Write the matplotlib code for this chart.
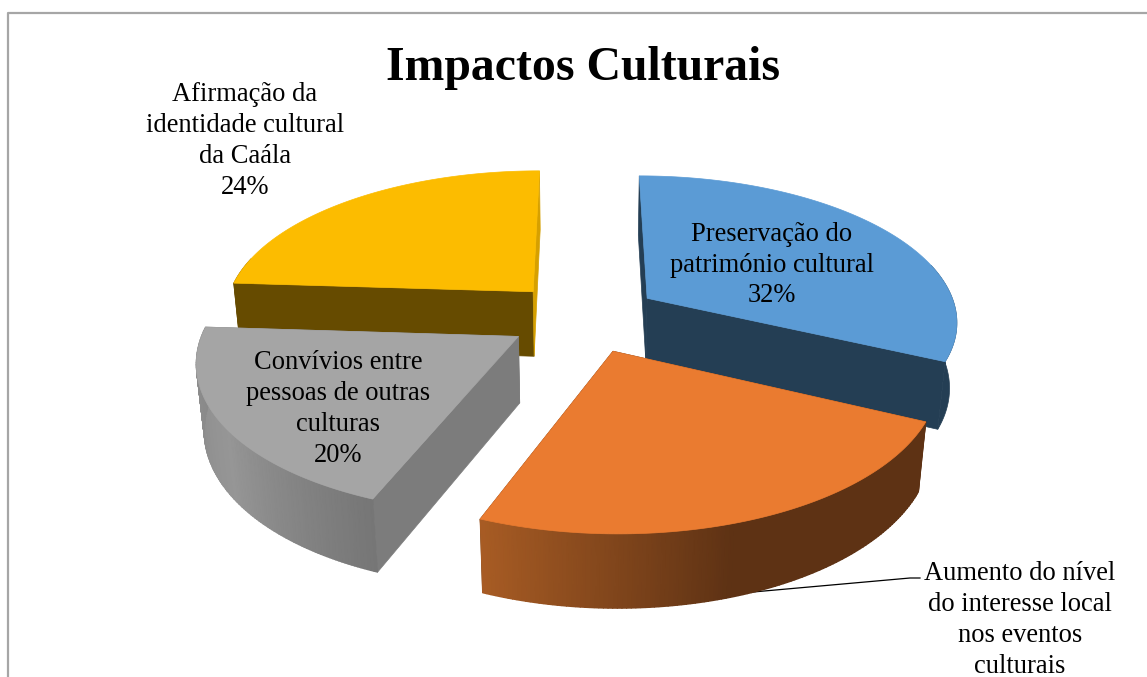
import numpy as np
import matplotlib
matplotlib.use('Agg')
import matplotlib.pyplot as plt
from matplotlib.patches import Polygon
from matplotlib.colors import LinearSegmentedColormap

plt.rcParams['font.family'] = ['Liberation Serif', 'DejaVu Serif']

title = 'Impactos Culturais'
categories = ['Preservação do\npatrimónio cultural',
              'Aumento do nível\ndo interesse local\nnos eventos\nculturais',
              'Convívios entre\npessoas de outras\nculturas',
              'Afirmação da\nidentidade cultural\nda Caála']
values = [32, 24, 20, 24]
show_percent = [True, False, True, True]
label_xy = [(772, 265), (1020, 620), (338, 409), (245, 141)]

top_colors = ['#5B9BD5', '#EA7B30', '#A5A5A5', '#FCBC00']
wall_colors = ['#243E54', '#5E3214', '#7C7C7C', '#664B00']
sliver_colors = ['#243E54', '#5E3214', '#7C7C7C', '#D6A000']
# outer wall shading, (angle, rgb) stops; None means flat
rim_stops = [None,
             [(115.2, (94, 50, 20)), (162, (94, 50, 20)), (201.6, (168, 92, 36))],
             [(201.6, (118, 118, 118)), (235, (150, 150, 150)), (273.6, (135, 135, 135))],
             None]

cx, cy = 584, 317
R, Q = 311, 145.2
H = 67
persp = 0.145
shrink = 0.02
explode = 0.245


def project(x, y, z=0.0):
    # z=0 is the top face, z=1 the bottom face
    d = 1 + persp * y + shrink * z
    return cx + R * x / d, cy + (-Q * y + H * z) / d


def rim(theta, ox, oy, z=0.0):
    t = np.radians(theta)
    return project(ox + np.sin(t), oy + np.cos(t), z)


def add_poly(ax, pts, color, z):
    ax.add_patch(Polygon(pts, closed=True, facecolor=color, edgecolor=color, lw=0.5, zorder=z))


fig = plt.figure(figsize=(11.47, 6.77), dpi=100)
ax = fig.add_axes([0, 0, 1, 1])

# chart frame
ax.plot([8, 8, 1147], [677, 13, 13], color='#A6A6A6', lw=1.6, zorder=1)

angles = np.cumsum([0] + values) * 3.6
# paint back slices first
draw_order = [3, 0, 2, 1]
for n, i in enumerate(draw_order):
    a0, a1 = angles[i], angles[i + 1]
    mid = np.radians((a0 + a1) / 2)
    ox, oy = explode * np.sin(mid), explode * np.cos(mid)
    base = 10 + n * 3
    ths = np.linspace(a0, a1, 121)

    # side cuts
    for th in (a0, a1):
        col = sliver_colors[i] if th == 360 else wall_colors[i]
        add_poly(ax, [project(ox, oy), rim(th, ox, oy), rim(th, ox, oy, 1), project(ox, oy, 1)], col, base)

    # outer wall, only the part facing the viewer
    front = ths[np.cos(np.radians(ths)) < 0.25]
    if len(front) > 1:
        top_x, top_y = rim(front, ox, oy)
        bot_x, bot_y = rim(front, ox, oy, 1)
        stops = rim_stops[i]
        if stops is None:
            pts = list(zip(top_x, top_y)) + list(zip(bot_x[::-1], bot_y[::-1]))
            add_poly(ax, pts, wall_colors[i], base + 1)
        else:
            lo, hi = stops[0][0], stops[-1][0]
            cmap = LinearSegmentedColormap.from_list(
                'rim%d' % i, [((a - lo) / (hi - lo), [c / 255 for c in rgb]) for a, rgb in stops])
            ax.pcolormesh(np.array([top_x, bot_x]), np.array([top_y, bot_y]),
                          np.array([front, front]), cmap=cmap, vmin=lo, vmax=hi,
                          shading='gouraud', zorder=base + 1)

    # top face
    pts = [project(ox, oy)] + [rim(t, ox, oy) for t in ths]
    add_poly(ax, pts, top_colors[i], base + 2)

# leader line for the outside label
ax.plot([753, 910, 920], [592, 578, 578], color='black', lw=0.9, zorder=9)

for name, v, show, (x, y) in zip(categories, values, show_percent, label_xy):
    s = name + '\n%d%%' % v if show else name
    ax.text(x, y, s, ha='center', va='center', fontsize=19.1, linespacing=1.3,
            color='black', zorder=30)

ax.text(583, 68, title, ha='center', va='center', fontsize=34.4, fontweight='bold',
        color='black', zorder=30)

ax.set_xlim(0, 1147)
ax.set_ylim(677, 0)
ax.axis('off')

fig.savefig('out.png', dpi=100)
